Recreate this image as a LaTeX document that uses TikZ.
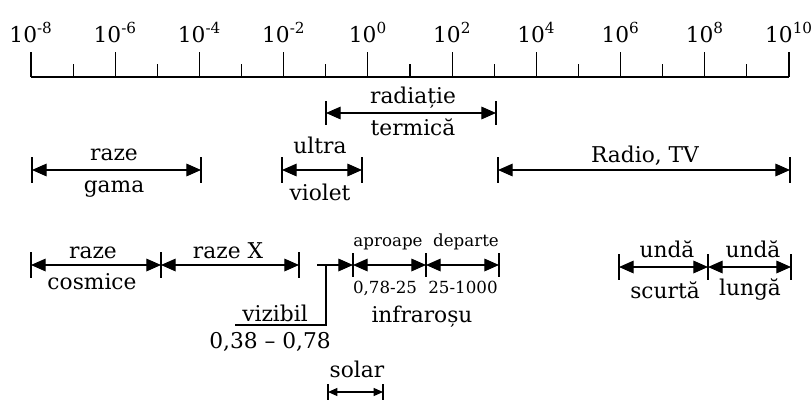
\documentclass[tikz,border=0pt]{standalone}
\usepackage{fontspec}
\setmainfont{DejaVu Serif}
\usepackage{tikz}
\usetikzlibrary{arrows.meta}

\tikzset{
  span/.style={{Triangle[length=11pt,width=9.5pt]}-{Triangle[length=11pt,width=9.5pt]}, line width=0.9pt},
  minispan/.style={{Triangle[length=7pt,width=6pt]}-{Triangle[length=7pt,width=6pt]}, line width=0.9pt},
  endbar/.style={line width=1pt},
  lbl/.style={anchor=base, inner sep=0pt, font=\fontsize{16.3}{18}\selectfont},
  small/.style={anchor=base, inner sep=0pt, font=\fontsize{12.5}{14}\selectfont},
}

% bars at both ends of a range
\newcommand{\rangeends}[3]{%
  \draw[endbar] (#1) ++(0,-#3) -- ++(0,2*#3);
  \draw[endbar] (#2) ++(0,-#3) -- ++(0,2*#3);
}

\begin{document}
\begin{tikzpicture}[x=0.75pt,y=-0.75pt]
    \useasboundingbox (0,0) rectangle (812,400);

    % scale
    \coordinate (axL) at (31,77);
    \coordinate (axR) at (789,77);
    \draw[line width=0.9pt] (axL) -- (axR);
    \foreach \e [count=\i from 0] in {-8,-6,...,10} {
        \draw[line width=0.9pt] (31+84.22*\i,77) -- ++(0,-25);
        \node[lbl] (tick\i) at (31+84.22*\i,42) {10\textsuperscript{\e}};
    }
    \foreach \i in {0,...,8}
        \draw[line width=0.9pt] (73.1+84.22*\i,77) -- ++(0,-13);

    % radiatie termica
    \coordinate (radL) at (326,113);
    \coordinate (radR) at (496,113);
    \draw[span] (radL) -- (radR);
    \rangeends{radL}{radR}{12}
    \node[lbl] (rad1) at (413,103) {radiație};
    \node[lbl] (rad2) at (413,135) {termică};

    % gama
    \coordinate (gamL) at (32,170);
    \coordinate (gamR) at (201,170);
    \draw[span] (gamL) -- (gamR);
    \rangeends{gamL}{gamR}{13}
    \node[lbl] (gam1) at (114,160) {raze};
    \node[lbl] (gam2) at (114,192) {gama};

    % ultraviolet
    \coordinate (uvL) at (282,170);
    \coordinate (uvR) at (362,170);
    \draw[span] (uvL) -- (uvR);
    \rangeends{uvL}{uvR}{13}
    \node[lbl] (uv1) at (320,153) {ultra};
    \node[lbl] (uv2) at (320,200) {violet};

    % radio
    \coordinate (tvL) at (498,170);
    \coordinate (tvR) at (790,170);
    \draw[span] (tvL) -- (tvR);
    \rangeends{tvL}{tvR}{13}
    \node[lbl] (tv) at (645,162) {Radio, TV};

    % cosmice, X
    \coordinate (cosL) at (31,265);
    \coordinate (cosR) at (161,265);
    \coordinate (xR) at (299,265);
    \draw[span] (cosL) -- (cosR);
    \draw[span] (cosR) -- (xR);
    \rangeends{cosL}{cosR}{13}
    \rangeends{cosR}{xR}{13}
    \node[lbl] (cos1) at (93,258) {raze};
    \node[lbl] (cos2) at (92,289) {cosmice};
    \node[lbl] (xray) at (228,258) {raze X};

    % vizibil
    \coordinate (vizA) at (317,265);
    \coordinate (vizB) at (326,265);
    \coordinate (vizC) at (326,325);
    \coordinate (vizD) at (235,325);
    \coordinate (irL) at (353,265);
    \draw[line width=0.9pt, -{Triangle[length=11pt,width=9.5pt]}] (vizA) -- (irL);
    \draw[line width=0.9pt] (vizB) -- (vizC) -- (vizD);
    \node[lbl] (viz1) at (275,321) {vizibil};
    \node[lbl] (viz2) at (270,348) {0,38 – 0,78};

    % infrarosu
    \coordinate (irM) at (426,265);
    \coordinate (irR) at (499,265);
    \draw[span] (irL) -- (irM);
    \draw[span] (irM) -- (irR);
    \rangeends{irL}{irM}{12}
    \rangeends{irM}{irR}{12}
    \node[small] (ir1) at (388,246) {aproape};
    \node[small] (ir2) at (466,246) {departe};
    \node[small] (ir3) at (385,293) {0,78-25};
    \node[small] (ir4) at (463,293) {25-1000};
    \node[lbl] (ir) at (422,322) {infraroșu};

    % solar
    \coordinate (solL) at (328,392);
    \coordinate (solR) at (383,392);
    \draw[minispan] (solL) -- (solR);
    \rangeends{solL}{solR}{8}
    \node[lbl] (sol) at (357,377) {solar};

    % unde scurte, lungi
    \coordinate (usL) at (619,267);
    \coordinate (usM) at (708,267);
    \coordinate (usR) at (791,267);
    \draw[span] (usL) -- (usM);
    \draw[span] (usM) -- (usR);
    \rangeends{usL}{usM}{13}
    \rangeends{usM}{usR}{13}
    \node[lbl] (us1) at (667,257) {undă};
    \node[lbl] (us2) at (665,298) {scurtă};
    \node[lbl] (ul1) at (753,257) {undă};
    \node[lbl] (ul2) at (750,295) {lungă};
\end{tikzpicture}
\end{document}
